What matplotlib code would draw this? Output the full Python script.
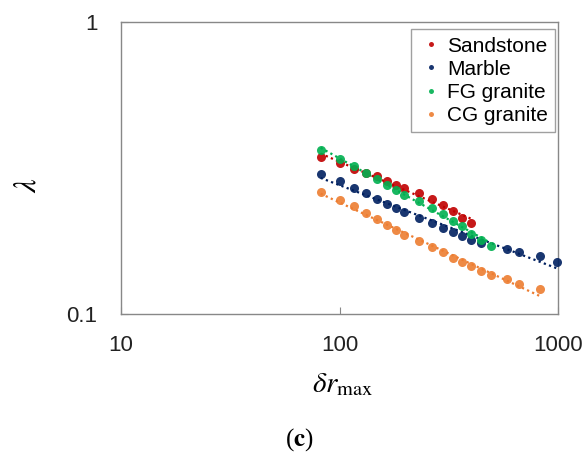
import numpy as np
import matplotlib
matplotlib.use("Agg")
import matplotlib.pyplot as plt

plt.rcParams['font.family'] = ['Liberation Sans', 'DejaVu Sans']
plt.rcParams['mathtext.fontset'] = 'stix'

x_all = [82, 100, 116, 132, 149, 165, 182, 198, 231, 265, 298, 331, 363, 398,
         446, 493, 583, 662, 828, 993]

sandstone_x = x_all[:14]
sandstone_y = [0.347, 0.329, 0.314, 0.305, 0.298, 0.285, 0.277, 0.271, 0.260,
               0.248, 0.236, 0.225, 0.214, 0.206]

marble_x = x_all[:15] + x_all[16:20]
marble_y = [0.302, 0.285, 0.271, 0.260, 0.248, 0.239, 0.231, 0.224, 0.214,
            0.206, 0.198, 0.191, 0.186, 0.180, 0.176, 0.167, 0.163, 0.158, 0.151]

fg_x = x_all[:16]
fg_y = [0.365, 0.340, 0.322, 0.305, 0.290, 0.278, 0.267, 0.256, 0.244,
        0.232, 0.221, 0.209, 0.200, 0.189, 0.180, 0.172]

cg_x = x_all[:19]
cg_y = [0.262, 0.246, 0.234, 0.222, 0.212, 0.202, 0.194, 0.187, 0.178,
        0.170, 0.163, 0.156, 0.151, 0.146, 0.141, 0.136, 0.132, 0.127, 0.122]

series = [
    ("Sandstone", sandstone_x, sandstone_y, "#C00000"),
    ("Marble", marble_x, marble_y, "#002060"),
    ("FG granite", fg_x, fg_y, "#00B050"),
    ("CG granite", cg_x, cg_y, "#ED7D31"),
]

fig = plt.figure(figsize=(5.84, 4.55), dpi=100)
ax = fig.add_axes([0.2072, 0.3092, 0.7483, 0.6418])

for name, xs, ys, c in series:
    xs = np.array(xs, float)
    ys = np.array(ys, float)
    p = np.polyfit(np.log10(xs), np.log10(ys), 1)
    xf = np.array([xs.min(), xs.max()])
    yf = 10 ** np.polyval(p, np.log10(xf))
    ax.plot(xf, yf, linestyle=(0, (1, 1.5)), color=c, lw=1.6, zorder=2)
    ax.plot(xs, ys, 'o', color=c, ms=6.5, mec='none', alpha=0.9,
            label=name, zorder=3, clip_on=False)

ax.set_xscale('log')
ax.set_yscale('log')
ax.set_xlim(10, 1000)
ax.set_ylim(0.1, 1)
ax.set_xticks([10, 100, 1000])
ax.set_xticklabels(['10', '100', '1000'])
ax.set_yticks([0.1, 1])
ax.set_yticklabels(['0.1', '1'])
ax.xaxis.set_minor_locator(matplotlib.ticker.NullLocator())
ax.yaxis.set_minor_locator(matplotlib.ticker.NullLocator())
ax.tick_params(direction='in', length=5, color='#888888', labelsize=16,
               labelcolor='#222222')
ax.tick_params(axis='x', pad=15)
ax.tick_params(axis='y', pad=17)
for s in ax.spines.values():
    s.set_color('#888888')
    s.set_linewidth(1.0)

leg = ax.legend(loc='upper right', bbox_to_anchor=(0.993, 0.976), fontsize=15,
                markerscale=0.55, handletextpad=0.15, handlelength=1.2,
                borderpad=0.35, labelspacing=0.2, fancybox=False,
                frameon=True, borderaxespad=0.0, handleheight=0.7)
leg.get_frame().set_edgecolor('#888888')
leg.get_frame().set_linewidth(1.0)

fig.text(343 / 584, 1 - 384 / 455, r'$\delta r_{\rm max}$', fontsize=21,
         ha='center', va='center')
fig.text(27 / 584, 1 - 185 / 455, r'$\lambda$', fontsize=22,
         ha='center', va='center', rotation=90)
fig.text(299 / 584, 1 - 440 / 455, r'($\mathbf{c}$)', fontsize=18,
         ha='center', va='center', family='Liberation Serif')

fig.savefig('out.png', dpi=100)
